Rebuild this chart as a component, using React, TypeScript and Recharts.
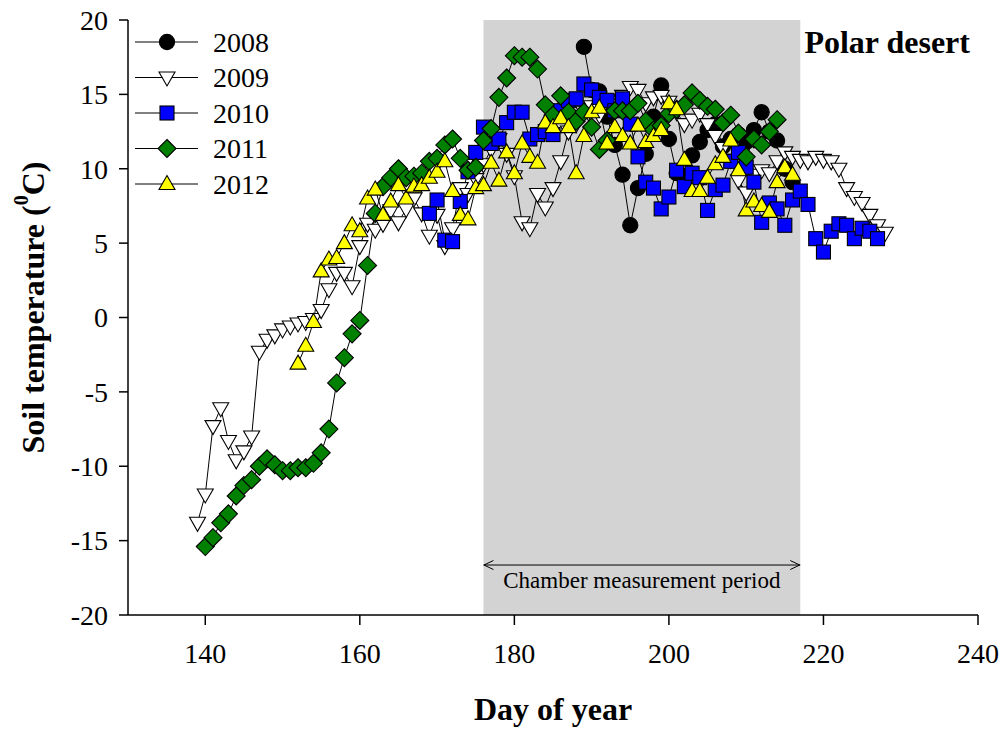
import React from 'react';
import {
  ComposedChart, Line, XAxis, YAxis, ReferenceArea, ReferenceLine, ReferenceDot, Legend,
} from 'recharts';

const FONT = '"Liberation Serif", "Times New Roman", Times, serif';

// ---- data (day of year, soil temperature) ----
const days2008 = [189,190,191,192,193,194,195,196,197,198,199,200,201,202,203,204,205,206,207,208,209,210,211,212,213,214,215,216];
const temps2008 = [18.2,15.3,15.2,13.5,11.6,9.6,6.2,8.7,11.0,13.5,15.6,12.0,9.7,9.5,10.9,11.8,12.6,13.0,11.5,12.0,12.3,11.8,12.6,13.8,12.5,11.9,10.0,9.1];

const days2009 = [139,140,141,142,143,144,145,146,147,148,149,150,151,152,153,154,155,156,157,158,159,160,161,162,163,164,165,166,167,168,169,170,171,172,173,174,175,176,177,178,179,180,181,182,183,184,185,186,187,188,189,190,191,192,193,194,195,196,197,198,199,200,201,202,203,204,205,206,207,208,209,210,211,212,213,214,215,216,217,218,219,220,221,222,223,224,225,226,227,228];
const temps2009 = [-13.8,-11.9,-7.3,-6.1,-8.3,-9.6,-9.0,-8.0,-2.3,-1.5,-1.2,-0.8,-0.6,-0.4,-0.3,-0.1,0.5,1.9,3.0,3.0,2.1,4.8,6.3,5.9,6.3,7.2,6.4,7.3,8.0,7.0,5.5,6.9,4.8,6.0,8.7,8.3,9.3,10.3,11.3,12.0,11.0,9.5,6.4,6.0,8.3,7.4,8.7,10.5,12.5,13.0,13.8,14.2,13.6,14.6,14.3,14.9,15.5,15.3,14.4,14.8,14.9,14.5,13.8,13.0,13.3,13.7,13.0,12.2,11.4,10.6,9.2,8.4,9.6,9.9,9.7,10.5,11.1,10.8,10.6,10.5,10.8,10.6,10.5,10.0,8.7,8.1,7.7,6.9,6.2,5.7];

const days2010 = [169,170,171,172,173,174,175,176,177,178,179,180,181,182,183,184,185,186,187,188,189,190,191,192,193,194,195,196,197,198,199,200,201,202,203,204,205,206,207,208,209,210,211,212,213,214,215,216,217,218,219,220,221,222,223,224,225,226,227];
const temps2010 = [7.0,7.9,5.2,5.1,7.8,9.8,11.1,12.8,11.7,12.0,13.1,13.8,13.8,12.0,12.3,12.5,12.3,13.9,14.6,14.7,15.7,15.3,14.8,14.6,13.9,14.7,13.0,10.8,9.1,8.7,7.3,8.1,9.9,8.8,9.7,9.4,7.2,8.6,8.9,10.5,11.1,10.1,9.1,6.4,7.7,7.3,6.2,7.9,8.5,7.6,5.3,4.4,5.8,6.3,6.2,5.3,6.0,5.8,5.3];

const days2011 = [140,141,142,143,144,145,146,147,148,149,150,151,152,153,154,155,156,157,158,159,160,161,162,163,164,165,166,167,168,169,170,171,172,173,174,175,176,177,178,179,180,181,182,183,184,185,186,187,188,189,190,191,192,193,194,195,196,197,198,199,200,201,202,203,204,205,206,207,208,209,210,211,212,213,214];
const temps2011 = [-15.4,-14.8,-13.8,-13.2,-12.0,-11.3,-10.9,-10.0,-9.5,-9.9,-10.3,-10.3,-10.1,-10.1,-9.8,-9.1,-7.5,-4.4,-2.7,-1.1,-0.2,3.5,7.0,8.8,9.4,10.0,9.4,9.5,9.7,10.5,10.7,11.6,12.0,10.7,9.9,10.1,11.9,12.7,14.8,16.1,17.6,17.5,17.5,16.7,14.3,13.6,14.9,13.8,13.2,13.8,12.8,11.3,11.9,13.9,13.9,13.9,14.4,13.2,12.6,12.9,13.7,14.0,14.3,15.1,14.6,14.2,14.0,13.1,13.6,12.4,10.8,12.0,11.6,12.5,13.3];

const days2012 = [152,153,154,155,156,157,158,159,160,161,162,163,164,165,166,167,168,169,170,171,172,173,174,175,176,177,178,179,180,181,182,183,184,185,186,187,188,189,190,191,192,193,194,195,196,197,198,199,200,201,202,203,204,205,206,207,208,209,210,211,212,213,214,215,216];
const temps2012 = [-3.1,-1.9,-0.3,3.1,3.9,4.0,5.0,6.2,5.8,8.0,8.6,6.9,7.8,8.9,8.0,8.8,8.9,9.4,9.8,10.5,8.5,6.9,6.6,8.7,8.9,10.4,9.2,11.1,9.7,11.7,10.8,10.4,13.1,12.8,13.4,12.8,9.7,12.2,13.8,14.1,11.7,12.8,12.2,11.7,12.9,11.8,12.2,12.6,14.4,14.0,10.6,8.5,8.5,9.4,10.3,10.8,11.9,9.9,7.2,7.8,7.5,7.1,9.1,10.1,9.6];

const xTicks = [140, 160, 180, 200, 220, 240];
const yTicks = [-20, -15, -10, -5, 0, 5, 10, 15, 20];
const periodStart = 176;
const periodEnd = 217;

const toRows = (d: number[], t: number[]) => d.map((day, i) => ({ d: day, t: t[i] }));

type Shape = 'circle' | 'triDown' | 'square' | 'diamond' | 'triUp';

const series: { name: string; rows: { d: number; t: number }[]; shape: Shape; fill: string }[] = [
  { name: '2008', rows: toRows(days2008, temps2008), shape: 'circle', fill: '#000000' },
  { name: '2009', rows: toRows(days2009, temps2009), shape: 'triDown', fill: '#ffffff' },
  { name: '2010', rows: toRows(days2010, temps2010), shape: 'square', fill: '#0000ff' },
  { name: '2011', rows: toRows(days2011, temps2011), shape: 'diamond', fill: '#008000' },
  { name: '2012', rows: toRows(days2012, temps2012), shape: 'triUp', fill: '#ffff00' },
];

function Marker({ shape, cx, cy, fill }: { shape: Shape; cx: number; cy: number; fill: string }) {
  const common = { fill, stroke: '#000', strokeWidth: 1.1 };
  switch (shape) {
    case 'circle':
      return <circle cx={cx} cy={cy} r={7.6} {...common} />;
    case 'triDown':
      return <polygon points={`${cx - 8},${cy - 5.5} ${cx + 8},${cy - 5.5} ${cx},${cy + 8.5}`} {...common} />;
    case 'square':
      return <rect x={cx - 7} y={cy - 7} width={14} height={14} {...common} />;
    case 'diamond':
      return <polygon points={`${cx},${cy - 9} ${cx + 9},${cy} ${cx},${cy + 9} ${cx - 9},${cy}`} {...common} />;
    default:
      return <polygon points={`${cx},${cy - 8.5} ${cx + 8},${cy + 5.5} ${cx - 8},${cy + 5.5}`} {...common} />;
  }
}

const makeDot = (shape: Shape, fill: string) => (props: any) => {
  const { cx, cy, index } = props;
  if (cx == null || cy == null) return <g key={index} />;
  return <Marker key={index} shape={shape} cx={cx} cy={cy} fill={fill} />;
};

const XTick = (props: any) => {
  const { x, y, payload } = props;
  return (
    <text x={x} y={y + 20} textAnchor="middle" fontSize={28} fontFamily={FONT} fill="#000">
      {payload.value}
    </text>
  );
};

const YTick = (props: any) => {
  const { x, y, payload } = props;
  return (
    <text x={x} y={y} dy="0.35em" textAnchor="end" fontSize={28} fontFamily={FONT} fill="#000">
      {payload.value}
    </text>
  );
};

function LegendBox() {
  return (
    <svg width={170} height={190} style={{ overflow: 'visible' }}>
      {series.map((s, i) => {
        const y = 14 + i * 35.5;
        return (
          <g key={s.name}>
            <line x1={2} y1={y} x2={65} y2={y} stroke="#000" strokeWidth={1} />
            <Marker shape={s.shape} cx={34} cy={y} fill={s.fill} />
            <text x={80} y={y} dy="0.35em" fontSize={28} fontFamily={FONT} fill="#000">{s.name}</text>
          </g>
        );
      })}
    </svg>
  );
}

const YLabel = (props: any) => {
  const vb = props.viewBox || {};
  const x = 33;
  const y = (vb.y ?? 20) + (vb.height ?? 595) / 2 - 10;
  return (
    <text x={x} y={y} transform={`rotate(-90 ${x} ${y})`} textAnchor="middle" dominantBaseline="central"
      fontSize={32} fontWeight="bold" fontFamily={FONT} fill="#000">
      Soil temperature (<tspan dy={-12} fontSize={20}>0</tspan><tspan dy={12}>C)</tspan>
    </text>
  );
};

const XLabel = (props: any) => {
  const vb = props.viewBox || {};
  const x = (vb.x ?? 128) + (vb.width ?? 850) / 2;
  return (
    <text x={x} y={720} textAnchor="middle" fontSize={32} fontWeight="bold" fontFamily={FONT} fill="#000">
      Day of year
    </text>
  );
};

export default function App() {
  return (
    <div style={{ position: 'fixed', left: 0, top: 0, width: 1003, height: 730, background: '#fff' }}>
      <ComposedChart width={1003} height={730} margin={{ top: 20, right: 25, bottom: 55, left: 48 }}>
        <XAxis
          xAxisId={0}
          type="number"
          dataKey="d"
          domain={[130, 240]}
          ticks={xTicks}
          allowDataOverflow
          height={60}
          tickSize={10}
          tickMargin={18}
          stroke="#000"
          axisLine={{ stroke: '#000', strokeWidth: 1.5 }}
          tickLine={{ stroke: '#000', strokeWidth: 1.5 }}
          tick={<XTick />}
          label={<XLabel />}
        />
        <XAxis
          xAxisId="top"
          orientation="top"
          type="number"
          domain={[130, 240]}
          height={0}
          tick={false}
          tickLine={false}
          axisLine={{ stroke: '#000', strokeWidth: 1.5 }}
        />
        <YAxis
          yAxisId={0}
          type="number"
          domain={[-20, 20]}
          ticks={yTicks}
          allowDataOverflow
          width={80}
          tickSize={9}
          tickMargin={11}
          axisLine={{ stroke: '#000', strokeWidth: 1.5 }}
          tickLine={{ stroke: '#000', strokeWidth: 1.5 }}
          tick={<YTick />}
          label={<YLabel />}
        />
        <YAxis
          yAxisId="right"
          orientation="right"
          type="number"
          domain={[-20, 20]}
          width={0}
          tick={false}
          tickLine={false}
          axisLine={{ stroke: '#000', strokeWidth: 1.5 }}
        />
        <ReferenceArea x1={periodStart} x2={periodEnd} y1={-20} y2={20} fill="#d3d3d3" fillOpacity={1} stroke="none" />
        <ReferenceLine
          segment={[{ x: periodStart, y: -16.64 }, { x: periodEnd, y: -16.64 }]}
          shape={(p: any) => (
            <g>
              <line x1={p.x1} y1={p.y1} x2={p.x2} y2={p.y2} stroke="#000" strokeWidth={1} />
              <path d={`M${p.x1 + 10},${p.y1 - 4.5}L${p.x1 + 0.5},${p.y1}L${p.x1 + 10},${p.y1 + 4.5}`} fill="none" stroke="#000" strokeWidth={1} />
              <path d={`M${p.x2 - 10},${p.y2 - 4.5}L${p.x2 - 0.5},${p.y2}L${p.x2 - 10},${p.y2 + 4.5}`} fill="none" stroke="#000" strokeWidth={1} />
            </g>
          )}
        />
        <ReferenceDot
          x={196.5}
          y={-17.65}
          r={0}
          shape={(p: any) => (
            <text x={p.cx} y={p.cy} textAnchor="middle" dominantBaseline="central" fontSize={23} fontFamily={FONT} fill="#000">
              Chamber measurement period
            </text>
          )}
        />
        <ReferenceDot
          x={238.96}
          y={17.78}
          r={0}
          shape={(p: any) => (
            <text x={p.cx} y={p.cy} textAnchor="end" fontSize={32} fontWeight="bold" fontFamily={FONT} fill="#000">
              Polar desert
            </text>
          )}
        />
        {series.map((s) => (
          <Line
            key={s.name}
            name={s.name}
            data={s.rows}
            dataKey="t"
            type="linear"
            stroke="#000"
            strokeWidth={1}
            dot={makeDot(s.shape, s.fill)}
            activeDot={false}
            isAnimationActive={false}
          />
        ))}
        <Legend
          layout="vertical"
          align="center"
          verticalAlign="middle"
          content={() => <LegendBox />}
          wrapperStyle={{ position: 'absolute', top: 28, left: 133, width: 170, height: 190 }}
        />
      </ComposedChart>
    </div>
  );
}
